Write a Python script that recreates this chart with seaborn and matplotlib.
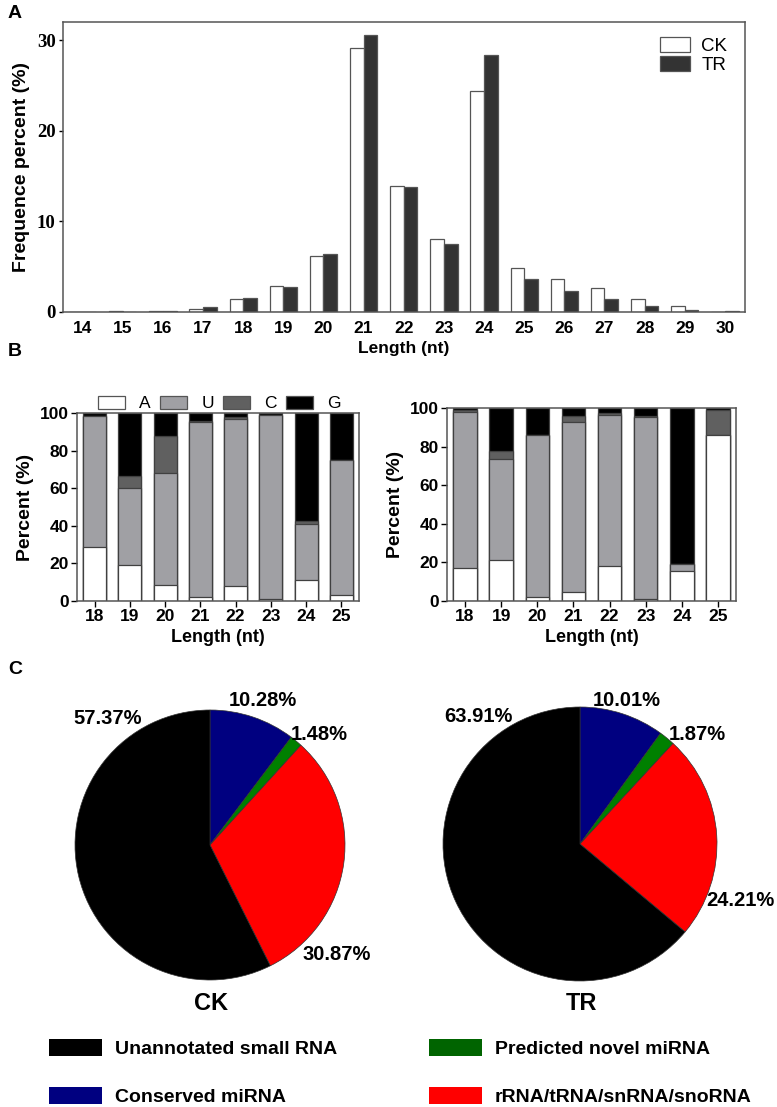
import pandas as pd
import seaborn as sns
import matplotlib.pyplot as plt
from matplotlib.patches import Patch

sns.set_style("ticks")
plt.rcParams['font.family'] = ['Liberation Sans', 'DejaVu Sans']
plt.rcParams.update({"text.color": "black", "axes.labelcolor": "black",
                     "xtick.color": "black", "ytick.color": "black"})

# Panel A: length distribution
lengths_a = [str(n) for n in range(14, 31)]
ck_freq = [0.0, 0.03, 0.05, 0.33, 1.36, 2.87, 6.2, 29.15, 13.9, 8.0,
           24.4, 4.8, 3.57, 2.58, 1.43, 0.59, 0.02]
tr_freq = [0.0, 0.02, 0.12, 0.52, 1.55, 2.76, 6.37, 30.6, 13.8, 7.43,
           28.3, 3.57, 2.28, 1.36, 0.59, 0.15, 0.08]

# Panel B: first-nucleotide composition
lengths_b = [str(n) for n in range(18, 26)]
ck_A = [28.6, 19.4, 8.3, 2.3, 7.8, 1.1, 11.4, 3.0]
ck_U = [70.0, 40.5, 59.6, 92.9, 89.2, 97.8, 29.5, 71.8]
ck_C = [0.0, 6.5, 20.0, 0.7, 0.9, 0.2, 1.6, 0.0]
ck_G = [1.4, 33.6, 12.1, 4.1, 2.1, 0.9, 57.5, 25.2]
tr_A = [17.1, 21.2, 1.9, 4.5, 18.3, 1.0, 15.5, 86.0]
tr_U = [81.0, 52.5, 84.1, 88.4, 78.1, 94.3, 3.5, 0.0]
tr_C = [0.9, 4.2, 0.0, 2.8, 0.8, 0.7, 0.0, 12.8]
tr_G = [1.0, 22.1, 14.0, 4.3, 2.8, 4.0, 81.0, 1.2]

# Panel C: annotation categories
pie_labels = ["Conserved miRNA", "Predicted novel miRNA",
              "rRNA/tRNA/snRNA/snoRNA", "Unannotated small RNA"]
ck_pie = [10.28, 1.48, 30.87, 57.37]
tr_pie = [10.01, 1.87, 24.21, 63.91]
pie_colors = ["#000080", "#008000", "#ff0000", "#000000"]

W, H = 777, 1107
fig = plt.figure(figsize=(W / 100, H / 100), dpi=100)


def box(x0, y0, x1, y1):
    return [x0 / W, 1 - y1 / H, (x1 - x0) / W, (y1 - y0) / H]


# ---------- A ----------
ax = fig.add_axes(box(62.5, 22, 745, 311.7))
df_a = pd.DataFrame({
    "length": lengths_a * 2,
    "pct": ck_freq + tr_freq,
    "group": ["CK"] * len(lengths_a) + ["TR"] * len(lengths_a),
})
sns.barplot(data=df_a, x="length", y="pct", hue="group", order=lengths_a,
            palette={"CK": "white", "TR": "#333333"}, edgecolor="#555555",
            linewidth=0.9, width=0.68, gap=0, errorbar=None, ax=ax)
ax.set_ylim(0, 32)
ax.set_xlim(-0.5, len(lengths_a) - 0.5)
ax.set_yticks([0, 10, 20, 30])
ax.set_xlabel("Length (nt)", fontsize=12.5, fontweight="bold", labelpad=3)
ax.set_ylabel("Frequence percent (%)", fontsize=14, fontweight="bold", labelpad=5)
ax.tick_params(axis="x", length=0, labelsize=12.5, pad=7)
ax.tick_params(axis="y", length=3, width=1, labelsize=13.5, pad=2)
for t in ax.get_xticklabels():
    t.set_fontweight("bold")
for t in ax.get_yticklabels():
    t.set_fontfamily(["Liberation Serif", "DejaVu Serif"])
    t.set_fontweight("bold")
for s in ax.spines.values():
    s.set_color("#555555")
    s.set_linewidth(1.1)
handles, labels = ax.get_legend_handles_labels()
ax.legend(handles, labels, frameon=False, loc="upper right",
          bbox_to_anchor=(0.985, 0.975), fontsize=13.5, handlelength=1.6,
          handleheight=0.9, handletextpad=0.6, labelspacing=0.05,
          borderaxespad=0)

# ---------- B ----------
nuc_colors = {"A": "white", "U": "#a0a0a4", "C": "#606060", "G": "black"}


def stacked(ax, a, u, c, g):
    layers = {
        "G": [w + x + y + z for w, x, y, z in zip(a, u, c, g)],
        "C": [w + x + y for w, x, y in zip(a, u, c)],
        "U": [w + x for w, x in zip(a, u)],
        "A": list(a),
    }
    for nuc, vals in layers.items():
        sns.barplot(x=lengths_b, y=vals, order=lengths_b, color=nuc_colors[nuc],
                    edgecolor="#404040", linewidth=0.9, width=0.65,
                    errorbar=None, ax=ax)
    ax.set_ylim(0, 100)
    ax.set_xlim(-0.5, len(lengths_b) - 0.5)
    ax.set_yticks([0, 20, 40, 60, 80, 100])
    ax.set_xlabel("Length (nt)", fontsize=13, fontweight="bold", labelpad=3)
    ax.set_ylabel("Percent (%)", fontsize=14, fontweight="bold", labelpad=4)
    ax.tick_params(length=4, width=1, labelsize=12.5, pad=2)
    for t in ax.get_xticklabels() + ax.get_yticklabels():
        t.set_fontweight("bold")
    for s in ax.spines.values():
        s.set_color("#555555")
        s.set_linewidth(1.1)


axb1 = fig.add_axes(box(77, 413, 359, 601))
stacked(axb1, ck_A, ck_U, ck_C, ck_G)
axb2 = fig.add_axes(box(447, 408, 736, 601))
stacked(axb2, tr_A, tr_U, tr_C, tr_G)

nuc_handles = [Patch(facecolor=nuc_colors[n], edgecolor="#555555", linewidth=0.9, label=n)
               for n in ["A", "U", "C", "G"]]
axb1.legend(handles=nuc_handles, ncol=4, frameon=False, loc="lower left",
            bbox_to_anchor=(0.07, 1.0), fontsize=12.5, handlelength=1.55,
            handleheight=0.8, handletextpad=0.8, columnspacing=0.55,
            borderaxespad=0.1, borderpad=0)

# ---------- C ----------
for vals, (x0, y0, x1, y1), name in [
    (ck_pie, (75, 710, 345, 980), "CK"),
    (tr_pie, (443, 707, 717, 981), "TR"),
]:
    axp = fig.add_axes(box(x0, y0, x1, y1))
    axp.pie(vals, colors=pie_colors, startangle=90, counterclock=False,
            wedgeprops=dict(edgecolor="#333333", linewidth=0.5))
    axp.set_xlim(-1, 1)
    axp.set_ylim(-1, 1)
    axp.set_aspect("auto")
    axp.axis("off")
    fig.text(((x0 + x1) / 2 + 1) / W, 1 - 1003 / H, name, fontsize=17,
             fontweight="bold", ha="center", va="center")

pct_pos = [
    (ck_pie[3], 108, 718), (ck_pie[0], 263, 700), (ck_pie[1], 319, 735), (ck_pie[2], 337, 954),
    (tr_pie[3], 478, 716), (tr_pie[0], 627, 700), (tr_pie[1], 697, 734), (tr_pie[2], 740, 900),
]
for v, px, py in pct_pos:
    fig.text(px / W, 1 - py / H, f"{v:.2f}%", fontsize=14.5, fontweight="bold",
             ha="center", va="center")

pie_handles = [Patch(facecolor=c, edgecolor="none", label=l)
               for l, c in zip(pie_labels, pie_colors)]
order = [3, 0, 1, 2]
leg_handles = [pie_handles[i] for i in order]
leg_handles[2] = Patch(facecolor="#006400", edgecolor="none", label=pie_labels[1])
fig.legend(handles=leg_handles, ncol=2, frameon=False, loc="upper left",
           bbox_to_anchor=(49 / W, 1 - 1039 / H), fontsize=14,
           handlelength=2.75, handleheight=1.0, handletextpad=0.65,
           columnspacing=4.7, labelspacing=1.45, borderpad=0, borderaxespad=0)
for t in fig.legends[0].get_texts():
    t.set_fontweight("bold")

# panel letters
fig.text(8 / W, 1 - 14 / H, "A", fontsize=14, fontweight="bold", va="center")
fig.text(8 / W, 1 - 351 / H, "B", fontsize=14, fontweight="bold", va="center")
fig.text(8 / W, 1 - 670 / H, "C", fontsize=14, fontweight="bold", va="center")

fig.savefig("out.png", dpi=100)
